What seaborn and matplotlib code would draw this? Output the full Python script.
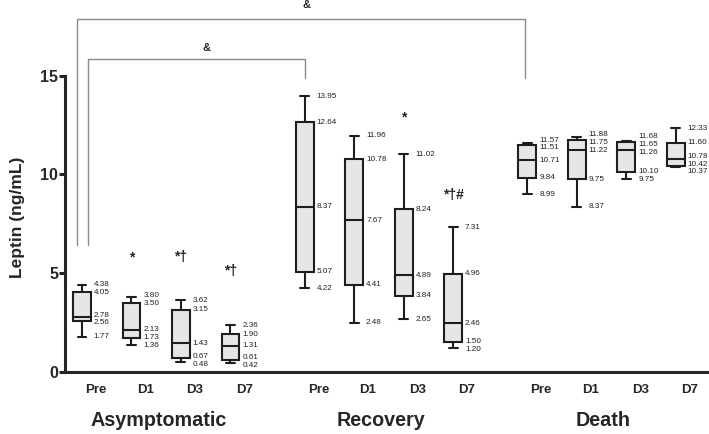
import numpy as np
import pandas as pd
import matplotlib
matplotlib.use("Agg")
import matplotlib.pyplot as plt
import matplotlib.transforms as mtransforms
import seaborn as sns

sns.set_style("ticks")
plt.rcParams['font.family'] = ['Liberation Sans', 'DejaVu Sans']

# groups and sampling days
groups = ["Asymptomatic", "Recovery", "Death"]
days = ["Pre", "D1", "D3", "D7"]

# five-number summaries per box (Asymptomatic Pre..D7, Recovery Pre..D7, Death Pre..D7)
whisker_low = [1.77, 1.36, 0.48, 0.42, 4.22, 2.48, 2.65, 1.20, 8.99, 8.37, 9.75, 10.37]
q1 = [2.56, 1.73, 0.67, 0.61, 5.07, 4.41, 3.84, 1.50, 9.84, 9.75, 10.10, 10.42]
median = [2.78, 2.13, 1.43, 1.31, 8.37, 7.67, 4.89, 2.46, 10.71, 11.22, 11.26, 10.78]
q3 = [4.05, 3.50, 3.15, 1.90, 12.64, 10.78, 8.24, 4.96, 11.51, 11.75, 11.65, 11.60]
whisker_high = [4.38, 3.80, 3.62, 2.36, 13.95, 11.96, 11.02, 7.31, 11.57, 11.88, 11.68, 12.33]

# significance marks: (box index, text, height)
sig_box = [1, 2, 3, 6, 7]
sig_text = ["*", "*\u2020", "*\u2020", "*", "*\u2020#"]
sig_y = [5.8, 5.8, 5.12, 12.87, 8.96]

# box positions: 4 days per group, with a gap between groups
positions = [g * 4.5 + d for g in range(len(groups)) for d in range(len(days))]

rows = []
for i, p in enumerate(positions):
    for v in (whisker_low[i], q1[i], median[i], q3[i], whisker_high[i]):
        rows.append({"pos": p, "leptin": v})
df = pd.DataFrame(rows)


def spread(vals, gap):
    """Push label heights apart so they don't overlap."""
    ys = list(vals)
    for _ in range(200):
        moved = False
        for j in range(len(ys) - 1):
            d = ys[j] - ys[j + 1]
            if d < gap - 1e-9:
                push = (gap - d) / 2
                ys[j] += push
                ys[j + 1] -= push
                moved = True
        if not moved:
            break
    return ys


fig = plt.figure(figsize=(7.09, 4.34), dpi=100)
ax = fig.add_axes([65 / 709, 62.3 / 434, 644 / 709, 371.7 / 434])

sns.boxplot(data=df, x="pos", y="leptin", native_scale=True, whis=(0, 100),
            width=0.36, color="#e6e6e6", linecolor="#1e1e1e", linewidth=1.5,
            ax=ax)

ax.set_xlim(-0.343, 12.67)
ax.set_ylim(0, 18.84)

# value labels next to each box
for i, p in enumerate(positions):
    vals = [whisker_high[i], q3[i], median[i], q1[i], whisker_low[i]]
    for v, y in zip(vals, spread(vals, 0.4)):
        ax.text(p + 0.24, y, f"{v:.2f}", fontsize=5.9, color="#222222",
                ha="left", va="center")

# significance marks
for b, t, y in zip(sig_box, sig_text, sig_y):
    ax.text(positions[b], y, t, fontsize=10, fontweight="bold",
            ha="center", va="center")

# comparison brackets
bcol = "#8a8a8a"
x0, x1 = positions[0] - 0.095, positions[8] - 0.04
ax.plot([x0, x0, x1, x1], [6.42, 17.86, 17.86, 14.88], color=bcol, lw=1.0,
        clip_on=False)
ax.text((positions[0] + positions[8]) / 2 + 0.03, 18.6, "&", fontsize=8,
        fontweight="bold", ha="center", va="center")
x0, x1 = positions[0] + 0.127, positions[4]
ax.plot([x0, x0, x1, x1], [6.42, 15.83, 15.83, 14.9], color=bcol, lw=1.0,
        clip_on=False)
ax.text((positions[0] + positions[4]) / 2 + 0.27, 16.4, "&", fontsize=8,
        fontweight="bold", ha="center", va="center")

# axes styling
sns.despine(ax=ax)
ax.spines["left"].set_bounds(0, 15)
ax.spines["left"].set_linewidth(2.2)
ax.spines["bottom"].set_linewidth(2.2)
ax.set_yticks([0, 5, 10, 15])
ax.set_yticklabels(["0", "5", "10", "15"], fontsize=11.5, fontweight="bold")
ax.tick_params(axis="y", length=4, width=2.2, pad=1)
ax.set_xticks([p + 0.28 for p in positions])
ax.set_xticklabels(days * len(groups), fontsize=9.5, fontweight="bold")
ax.tick_params(axis="x", length=0, pad=9)
ax.set_xlabel("")
ax.set_ylabel("")

# group names below the day labels
trans = mtransforms.blended_transform_factory(ax.transData, fig.transFigure)
for g, name in enumerate(groups):
    center = np.mean(positions[g * 4:(g + 1) * 4]) + 0.04
    ax.text(center, 14 / 434, name, transform=trans, fontsize=14.2,
            fontweight="bold", ha="center", va="center")

fig.text(18 / 709, 0.5, "Leptin (ng/mL)", rotation=90, fontsize=12.5,
         fontweight="bold", ha="center", va="center")

fig.savefig("out.png", dpi=100)
